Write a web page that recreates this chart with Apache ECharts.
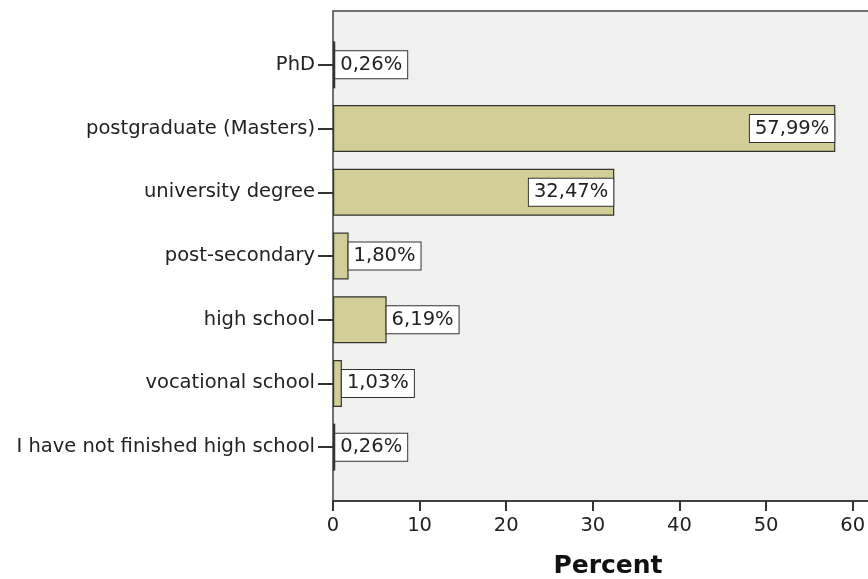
<!DOCTYPE html>
<html>
<head>
<meta charset="utf-8">
<script src="https://cdn.jsdelivr.net/npm/echarts@6/dist/echarts.min.js"></script>
<style>
html,body{margin:0;padding:0;background:#fff;overflow:hidden;}
#c{width:868px;height:579px;}
</style>
</head>
<body>
<div id="c"></div>
<script>
const categories = ["PhD","postgraduate (Masters)","university degree","post-secondary","high school","vocational school","I have not finished high school"];
const percentValues = [0.26, 57.99, 32.47, 1.80, 6.19, 1.03, 0.26];
const xTicks = [0, 10, 20, 30, 40, 50, 60];
const axisTitle = "Percent";

const FONT = "DejaVu Sans";
const X_MAX = 63.5;

const chart = echarts.init(document.getElementById('c'), null, {renderer:'canvas'});

const fmt = v => v.toFixed(2).replace('.', ',') + '%';

const labelBase = {
  show: true,
  fontFamily: FONT,
  fontSize: 19.5,
  color: '#222',
  backgroundColor: '#ffffff',
  borderColor: '#333',
  borderWidth: 1,
  padding: [4, 5, 3, 5],
  formatter: p => fmt(p.value)
};

const data = percentValues.map(v => ({
  value: v,
  label: v > 20 ? Object.assign({}, labelBase, {position: 'insideRight', distance: 1})
                : Object.assign({}, labelBase, {position: 'right', distance: 0})
}));

chart.setOption({
  animation: false,
  backgroundColor: '#ffffff',
  grid: [
    {left: 333, width: 550, top: 33, height: 446, outerBoundsMode: 'none', containLabel: false},
    {left: 333, width: 550, top: 11, height: 490, outerBoundsMode: 'none', containLabel: false,
     show: true, backgroundColor: '#f0f0f0', borderColor: '#444', borderWidth: 1.5}
  ],
  xAxis: [
    {
      gridIndex: 1, type: 'value', min: 0, max: X_MAX, interval: 10,
      name: axisTitle, nameLocation: 'middle', nameGap: 53,
      nameTextStyle: {fontFamily: FONT, fontWeight: 'bold', fontSize: 25, color: '#111'},
      axisLine: {show: true, lineStyle: {color: '#333', width: 1.5}},
      axisTick: {show: true, length: 10, lineStyle: {color: '#333', width: 2}},
      axisLabel: {fontFamily: FONT, fontSize: 19.5, color: '#222', margin: 15,
        formatter: v => xTicks.indexOf(v) >= 0 ? String(v) : ''},
      splitLine: {show: false}
    },
    {
      gridIndex: 0, type: 'value', min: 0, max: X_MAX, interval: 10, show: false
    }
  ],
  yAxis: [
    {
      gridIndex: 0, type: 'category', data: categories, inverse: true,
      axisLine: {show: false},
      axisTick: {show: true, alignWithLabel: true, length: 15, lineStyle: {color: '#333', width: 2}},
      axisLabel: {fontFamily: FONT, fontSize: 19.5, color: '#222', margin: 18},
      splitLine: {show: false}
    },
    {
      gridIndex: 1, type: 'value', show: false
    }
  ],
  series: [{
    type: 'bar',
    xAxisIndex: 1,
    yAxisIndex: 0,
    data: data,
    barWidth: 47,
    itemStyle: {color: '#d3ce97', borderColor: '#333', borderWidth: 1.2}
  }]
});
</script>
</body>
</html>
